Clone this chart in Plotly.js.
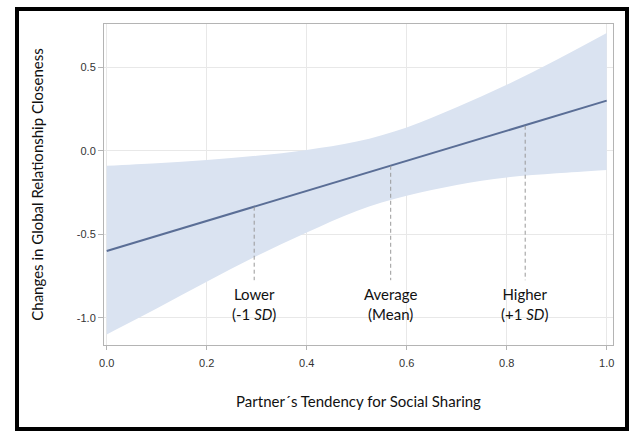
<!DOCTYPE html>
<html>
<head>
<meta charset="utf-8">
<script src="https://cdn.plot.ly/plotly-3.0.1.min.js"></script>
<style>
html, body { margin: 0; padding: 0; background: #fff; }
#wrap { position: relative; width: 629px; height: 432px; }
#chart { width: 629px; height: 432px; }
#frame { position: absolute; left: 15px; top: 7px; width: 606px; height: 416px; border: 4px solid #000; pointer-events: none; }
</style>
</head>
<body>
<div id="wrap">
<div id="chart"></div>
<div id="frame"></div>
</div>
<script>
// Data
const xVals     = [0.0, 0.1, 0.2, 0.3, 0.4, 0.5, 0.6, 0.7, 0.8, 0.9, 1.0];
const fitVals   = [-0.60, -0.51, -0.42, -0.33, -0.24, -0.15, -0.06, 0.03, 0.12, 0.21, 0.30];
const upperVals = [-0.09, -0.075, -0.055, -0.03, 0.005, 0.055, 0.14, 0.26, 0.395, 0.545, 0.705];
const lowerVals = [-1.10, -0.945, -0.785, -0.63, -0.49, -0.36, -0.27, -0.205, -0.16, -0.135, -0.115];

const markerX      = [0.295, 0.568, 0.837];
const markerTop    = [-0.335, -0.09, 0.15];
const markerBottom = [-0.775, -0.775, -0.775];
const markerLabels = ['Lower<br>(-1 <i>SD</i>)', 'Average<br>(Mean)', 'Higher<br>(+1 <i>SD</i>)'];
const markerLabelY = -0.918;

const xTicks = [0.0, 0.2, 0.4, 0.6, 0.8, 1.0];
const yTicks = [-1.0, -0.5, 0.0, 0.5];

const traces = [
  { x: xVals, y: lowerVals, mode: 'lines', line: { width: 0, shape: 'spline', color: 'rgba(0,0,0,0)' }, hoverinfo: 'skip', showlegend: false },
  { x: xVals, y: upperVals, mode: 'lines', fill: 'tonexty', fillcolor: '#dae3f1', line: { width: 0, shape: 'spline', color: 'rgba(0,0,0,0)' }, hoverinfo: 'skip', showlegend: false },
  { x: xVals, y: fitVals, mode: 'lines', line: { width: 2, color: '#5a6e96' }, hoverinfo: 'skip', showlegend: false }
];
markerX.forEach((mx, i) => {
  traces.push({ x: [mx, mx], y: [markerTop[i], markerBottom[i]], mode: 'lines', line: { width: 1, color: '#999999', dash: '4px,3px' }, hoverinfo: 'skip', showlegend: false });
});

const textFont = { family: 'Lato, Open Sans, sans-serif', size: 15, color: '#111' };
const annotations = markerX.map((mx, i) => ({
  x: mx, y: markerLabelY, xref: 'x', yref: 'y', text: markerLabels[i], showarrow: false,
  font: textFont, align: 'center'
}));

const tickFont = { family: 'Liberation Sans Narrow, Liberation Sans, Arial, sans-serif', size: 11, color: '#333' };

const layout = {
  width: 629, height: 432,
  margin: { l: 104, r: 16, t: 24, b: 87 },
  paper_bgcolor: '#fff', plot_bgcolor: '#fff',
  showlegend: false,
  xaxis: {
    range: [-0.0054, 1.0126], tickvals: xTicks, ticktext: xTicks.map(v => v.toFixed(1)),
    showgrid: true, gridcolor: '#e8e8e8', gridwidth: 1, zeroline: false,
    showline: true, linecolor: '#b4b4b4', linewidth: 1, mirror: true,
    ticks: 'outside', ticklen: 4, tickcolor: '#b4b4b4', tickfont: tickFont, ticklabelstandoff: 4,
    title: { text: 'Partner´s Tendency for Social Sharing', font: textFont, standoff: 28 }
  },
  yaxis: {
    range: [-1.163, 0.759], tickvals: yTicks, ticktext: yTicks.map(v => v.toFixed(1)),
    showgrid: true, gridcolor: '#e8e8e8', gridwidth: 1, zeroline: false,
    showline: true, linecolor: '#b4b4b4', linewidth: 1, mirror: true,
    ticks: 'outside', ticklen: 5, tickcolor: '#b4b4b4', tickfont: tickFont,
    title: { text: 'Changes in Global Relationship Closeness', font: textFont, standoff: 29 }
  },
  annotations: annotations
};

Plotly.newPlot('chart', traces, layout, { staticPlot: true, displayModeBar: false });
</script>
</body>
</html>
